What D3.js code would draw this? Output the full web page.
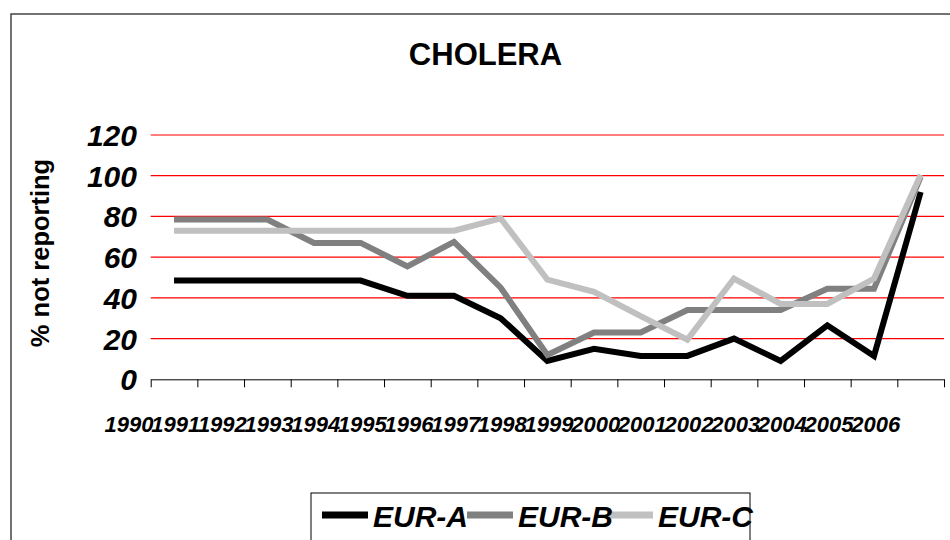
<!DOCTYPE html>
<html>
<head>
<meta charset="utf-8">
<script src="https://cdn.jsdelivr.net/npm/d3@7"></script>
<style>
  body { margin: 0; background: #fff; }
  svg text { font-family: "Liberation Sans", Arial, sans-serif; font-weight: bold; }
</style>
</head>
<body>
<svg id="chart" width="950" height="540"></svg>
<script>
var years = ["1990","1991","1992","1993","1994","1995","1996","1997","1998",
             "1999","2000","2001","2002","2003","2004","2005","2006"];
var eurA = [48.5, 48.5, 48.5, 48.5, 48.5, 41, 41, 30, 9, 15, 11.5, 11.5, 20, 9, 26.5, 11.5, 92];
var eurB = [78.5, 78.5, 78.5, 67, 67, 55.5, 67.5, 45, 12, 23, 23, 34, 34, 34, 44.5, 44.5, 99.5];
var eurC = [73, 73, 73, 73, 73, 73, 73, 79, 49, 43, 31, 19.5, 49.5, 37, 37, 49.5, 100.5];
var yTicks = [0, 20, 40, 60, 80, 100, 120];
var seriesNames = ["EUR-A", "EUR-B", "EUR-C"];
var seriesColors = ["#000000", "#808080", "#c0c0c0"];

var svg = d3.select("#chart");

// outer frame (runs off the right and bottom of the picture)
svg.append("rect")
    .attr("x", 11).attr("y", 14)
    .attr("width", 1000).attr("height", 600)
    .attr("fill", "none")
    .attr("stroke", "#444")
    .attr("stroke-width", 1.5);

var x = d3.scaleBand()
    .domain(years)
    .range([150.7, 944]);

var y = d3.scaleLinear()
    .domain([0, 120])
    .range([379.3, 135]);

// red gridlines
svg.selectAll("line.grid")
    .data(yTicks.filter(function(d) { return d > 0; }))
  .enter().append("line")
    .attr("class", "grid")
    .attr("x1", 150.7).attr("x2", 944)
    .attr("y1", function(d) { return y(d); })
    .attr("y2", function(d) { return y(d); })
    .attr("stroke", "#ff0000")
    .attr("stroke-width", 1.2);

// x axis: ticks sit on the band edges
var edge = d3.scaleLinear().domain([0, years.length]).range(x.range());
var xAxis = d3.axisBottom(edge)
    .tickValues(d3.range(years.length + 1))
    .tickSize(8)
    .tickSizeOuter(0)
    .tickFormat("");

svg.append("g")
    .attr("transform", "translate(0," + y(0) + ")")
    .call(xAxis)
    .call(function(g) { g.selectAll("path, line").attr("stroke", "#000").attr("stroke-width", 1); });

// year labels (shifted left, as in the original)
svg.selectAll("text.year")
    .data(years)
  .enter().append("text")
    .attr("class", "year")
    .attr("x", function(d) { return x(d) + x.bandwidth() / 2 - 45; })
    .attr("y", 432)
    .attr("text-anchor", "middle")
    .style("font-size", "22px")
    .style("font-style", "italic")
    .text(function(d) { return d; });

// y labels
svg.selectAll("text.ylab")
    .data(yTicks)
  .enter().append("text")
    .attr("class", "ylab")
    .attr("x", 137)
    .attr("y", function(d) { return y(d) + 11; })
    .attr("text-anchor", "end")
    .style("font-size", "30px")
    .style("font-style", "italic")
    .text(function(d) { return d; });

svg.append("text")
    .attr("transform", "translate(49,253) rotate(-90)")
    .attr("text-anchor", "middle")
    .style("font-size", "25.5px")
    .text("% not reporting");

svg.append("text")
    .attr("x", 485.5)
    .attr("y", 65)
    .attr("text-anchor", "middle")
    .style("font-size", "31px")
    .text("CHOLERA");

// lines
var line = d3.line()
    .x(function(d, i) { return x(years[i]) + x.bandwidth() / 2; })
    .y(function(d) { return y(d); });

[eurA, eurB, eurC].forEach(function(s, i) {
  svg.append("path")
      .datum(s)
      .attr("d", line)
      .attr("fill", "none")
      .attr("stroke", seriesColors[i])
      .attr("stroke-width", 6)
      .attr("stroke-linejoin", "miter");
});

// legend
var legend = svg.append("g");
legend.append("rect")
    .attr("x", 311).attr("y", 493)
    .attr("width", 439).attr("height", 80)
    .attr("fill", "#fff")
    .attr("stroke", "#000")
    .attr("stroke-width", 1);

var legendX = [322, 467, 607];
seriesNames.forEach(function(name, i) {
  legend.append("line")
      .attr("x1", legendX[i]).attr("x2", legendX[i] + 46)
      .attr("y1", 515).attr("y2", 515)
      .attr("stroke", seriesColors[i])
      .attr("stroke-width", 7);
});
seriesNames.forEach(function(name, i) {
  legend.append("text")
      .attr("x", legendX[i] + 51)
      .attr("y", 527)
      .style("font-size", "30px")
      .style("font-style", "italic")
      .text(name);
});
</script>
</body>
</html>
